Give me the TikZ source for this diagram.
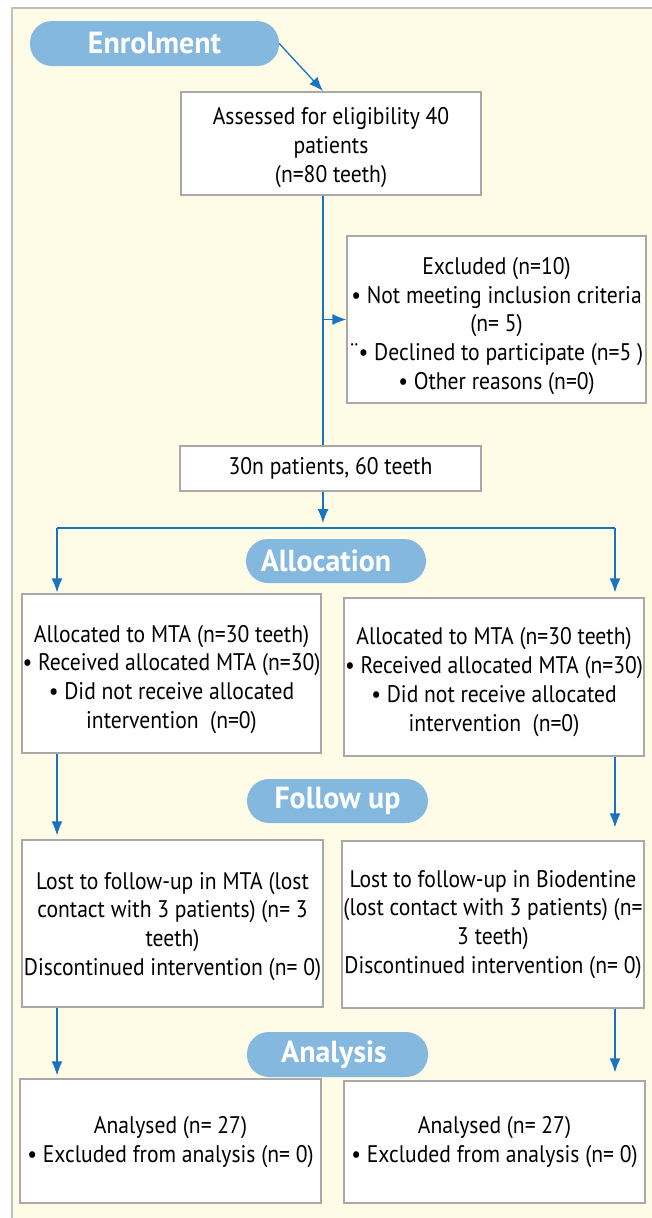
\documentclass[tikz,border=0pt]{standalone}
\usepackage{fontspec}
\setmainfont{PT Sans}[FakeStretch=0.9]
\newfontfamily\pillfont{PT Sans}[FakeStretch=0.98]
\usetikzlibrary{arrows.meta}
\definecolor{bg}{HTML}{FEFBE6}
\definecolor{pill}{HTML}{85B8DF}
\definecolor{arr}{HTML}{1874C1}
\definecolor{bord}{HTML}{A8A8A8}
\newcommand{\dropby}[1]{\rule{0pt}{#1}}
\begin{document}
\begin{tikzpicture}[x=1pt,y=-1pt,
  box/.style={draw=bord, line width=1.3pt, fill=white, align=center, font=\fontsize{24}{28.8}\selectfont, inner sep=0pt},
  pillbox/.style={fill=pill, rounded corners=22pt, text=white, font=\pillfont\bfseries\fontsize{30.5}{32}\selectfont, inner sep=0pt},
  conn/.style={draw=arr, line width=1.3pt},
  arw/.style={conn, -{Latex[length=14pt,width=11pt]}}]
\useasboundingbox (0,0) rectangle (652,1218);
\fill[white] (0,0) rectangle (652,1218);
\fill[bg] (12,8) rectangle (652,1218);
\draw[black!25, line width=1.2pt] (12,1218) -- (12,8) -- (652,8);

% phase pills
\node[pillbox, minimum width=249pt, minimum height=45pt] (enrol) at (154.5,43.5) {Enrolment};
\node[pillbox, minimum width=180pt, minimum height=44pt] (allocp) at (336,561) {Allocation\hspace*{20pt}};
\node[pillbox, minimum width=181pt, minimum height=44pt] (fup) at (337.5,801) {Follow up};
\node[pillbox, minimum width=181pt, minimum height=45pt] (anp) at (337.5,1054.5) {Analysis\hspace*{7pt}};

% boxes
\node[box, minimum width=300pt, minimum height=103pt] (assess) at (331,143.5) {\dropby{25pt}Assessed for eligibility 40\\ patients\\ (n=80 teeth)};
\node[box, minimum width=299pt, minimum height=167pt] (excl) at (496.5,319.5) {\dropby{30pt}Excluded (n=10)\\ • Not meeting inclusion criteria\\ (n= 5)\\ ¨• Declined to participate (n=5 )\\ • Other reasons (n=0)};
\node[box, minimum width=301pt, minimum height=45pt] (n30) at (330.5,468.5) {30n patients, 60 teeth};
\node[box, minimum width=299pt, minimum height=159pt] (allocL) at (171.5,673.5) {\dropby{29pt}Allocated to MTA (n=30 teeth)\\ • Received allocated MTA (n=30)\\ • Did not receive allocated\\ intervention~~(n=0)};
\node[box, minimum width=300pt, minimum height=158pt] (allocR) at (494,677) {\dropby{27pt}Allocated to MTA (n=30 teeth)\\ • Received allocated MTA (n=30)\\ • Did not receive allocated\\ intervention~~(n=0)};
\node[box, minimum width=301pt, minimum height=167pt] (fuL) at (172.5,923.5) {\dropby{23pt}Lost to follow-up in MTA (lost\\ contact with 3 patients) (n= 3\\ teeth)\\ Discontinued intervention (n= 0)};
\node[box, minimum width=302pt, minimum height=167pt] (fuR) at (493,924.5) {Lost to follow-up in Biodentine\\ (lost contact with 3 patients) (n=\\ 3 teeth)\\ Discontinued intervention (n= 0)};
\node[box, minimum width=301pt, minimum height=124pt] (anL) at (170.5,1141) {\dropby{20pt}Analysed (n= 27)\\ • Excluded from analysis (n= 0)};
\node[box, minimum width=301pt, minimum height=122pt] (anR) at (494.5,1142) {Analysed (n= 27)\\ • Excluded from analysis (n= 0)};

% guide coordinates
\coordinate (spine) at (323,0);
\coordinate (splitL) at (57,528);
\coordinate (splitR) at (615,528);
\coordinate (splitTip) at (323,523);
\coordinate (assessIn) at (323,91);

% connectors
\draw[arw] (enrol.east) -- (assessIn);
\draw[conn] (assess.south -| spine) -- (n30.north -| spine);
\draw[arw] (excl.west -| spine) -- (excl.west);
\draw[arw] (n30.south -| spine) -- (splitTip);
\draw[conn] (splitL) -- (splitR);
\draw[arw, shorten >=1pt] (splitL) -- (splitL |- allocL.north);
\draw[arw, shorten >=5pt] (splitR) -- (splitR |- allocR.north);
\draw[arw, shorten >=4pt] (allocL.south -| splitL) -- (splitL |- fuL.north);
\draw[arw, shorten >=13pt] (allocR.south -| splitR) -- (splitR |- fuR.north);
\draw[arw, shorten >=3pt] (fuL.south -| splitL) -- (splitL |- anL.north);
\draw[arw, shorten >=8pt] (fuR.south -| splitR) -- (splitR |- anR.north);
\end{tikzpicture}
\end{document}
